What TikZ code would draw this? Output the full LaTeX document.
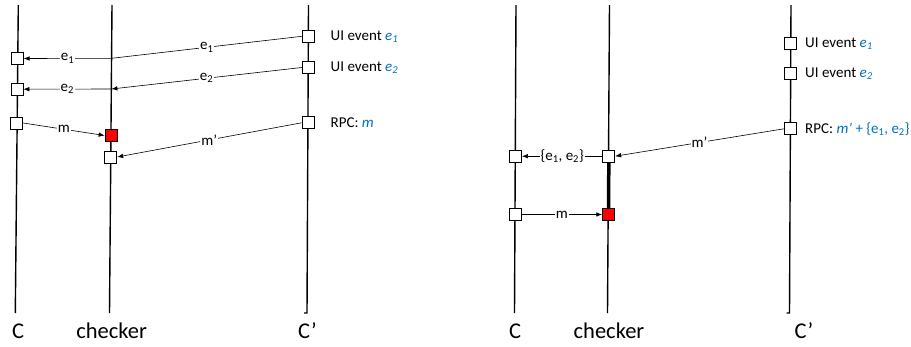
\documentclass[tikz,border=0pt]{standalone}
\usepackage{fontspec}
\setmainfont{Carlito}
\usetikzlibrary{arrows.meta}
\definecolor{evblue}{RGB}{0,112,192}

\begin{document}
\begin{tikzpicture}[x=1pt,y=-1pt,
  life/.style={line width=1.4pt},
  box/.style={draw,fill=white,minimum size=12pt,inner sep=0pt,line width=0.7pt},
  redbox/.style={box,fill=red},
  msg/.style={-{Latex[length=6pt,width=4.5pt]},line width=0.6pt},
  lbl/.style={fill=white,inner sep=1pt,font=\fontsize{15}{17}\selectfont},
  lifename/.style={anchor=base,font=\fontsize{22.5}{26}\selectfont},
  evnote/.style={anchor=west,inner sep=0pt,font=\fontsize{15}{17}\selectfont}]
\useasboundingbox (0,0) rectangle (911,346);

\draw[life] (18.3,5) -- (15.3,313);
\draw[life] (112,5) -- (109.5,313);
\draw[life] (308.5,5) -- (307,313) -- ++(-3,0);

\node[box] (C1) at (17.2,58.5) {};
\node[box] (C2) at (17,89.2) {};
\node[box] (C3) at (16.8,123) {};
\node[redbox] (R1) at (111,135.5) {};
\node[box] (W1) at (110.8,157) {};
\node[box] (U1) at (308.3,36.3) {};
\node[box] (U2) at (308.1,67.5) {};
\node[box] (U3) at (307.9,122.8) {};
\coordinate (K1) at (111.6,58.3);
\coordinate (K2) at (111.4,89);

\node[evnote] (L1) at (330.5,36.3) {UI event \textcolor{evblue}{\textit{e\textsubscript{1}}}};
\node[evnote] (L2) at (330.5,67.5) {UI event \textcolor{evblue}{\textit{e\textsubscript{2}}}};
\node[evnote] (L3) at (330.5,122.8) {RPC: \textcolor{evblue}{\textit{m}}};

\draw[line width=0.6pt] (U1.west) -- node[lbl] {e\textsubscript{1}} (K1);
\draw[msg] (K1) -- node[lbl] {e\textsubscript{1}} (C1.east);
\draw[msg] (U2.west) -- node[lbl] {e\textsubscript{2}} (K2);
\draw[msg] (K2) -- node[lbl] {e\textsubscript{2}} (C2.east);
\draw[msg] (C3.east) -- node[lbl] {m} (R1.west);
\draw[msg] (U3.west) -- node[lbl] {m'} (W1.east);

\node[lifename] (N1) at (18,338.3) {C};
\node[lifename] (N2) at (111.7,338.3) {checker};
\node[lifename] (N3) at (307.5,338.3) {C’};

\draw[life] (516,5) -- (514.5,313);
\draw[life] (609.5,5) -- (607.5,313);
\draw[life] (791,5) -- (789.5,313) -- ++(-3,0);

\node[box] (C4) at (515.6,156.2) {};
\node[box] (C5) at (515.2,214.5) {};
\node[box] (W2) at (608.8,156.2) {};
\node[redbox] (R2) at (608.6,214.5) {};
\draw[line width=3.5pt] (W2.south) -- (R2.north);
\node[box] (U4) at (790.7,43.3) {};
\node[box] (U5) at (790.6,73.5) {};
\node[box] (U6) at (790.3,128.8) {};

\node[evnote] (L4) at (805,43.3) {UI event \textcolor{evblue}{\textit{e\textsubscript{1}}}};
\node[evnote] (L5) at (805,73.5) {UI event \textcolor{evblue}{\textit{e\textsubscript{2}}}};
\node[evnote] (L6) at (805,128.8) {RPC: \textcolor{evblue}{\textit{m’} + \{e\textsubscript{1}, e\textsubscript{2}\}}};

\draw[msg] (U6.west) -- node[lbl] {m'} (W2.east);
\draw[msg] (W2.west) -- node[lbl] {\{e\textsubscript{1}, e\textsubscript{2}\}} (C4.east);
\draw[msg] (C5.east) -- node[lbl] {m} (R2.west);

\node[lifename] (N4) at (515,338.3) {C};
\node[lifename] (N5) at (609,338.3) {checker};
\node[lifename] (N6) at (804,338.3) {C’};
\end{tikzpicture}
\end{document}
